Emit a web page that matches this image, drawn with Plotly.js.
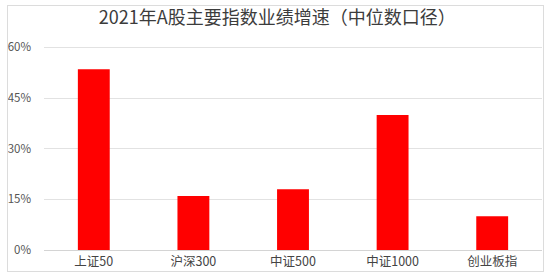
<!DOCTYPE html>
<html>
<head>
<meta charset="utf-8">
<script src="https://cdn.plot.ly/plotly-3.0.1.min.js"></script>
<style>
html,body{margin:0;padding:0;background:#fff;}
#wrap{position:relative;width:550px;height:277px;}
#chart{width:550px;height:277px;}
#frame{position:absolute;left:7px;top:5px;width:535px;height:265px;border:1px solid #dcdcdc;pointer-events:none;}
</style>
</head>
<body>
<div id="wrap"><div id="chart"></div><div id="frame"></div></div>
<script>
const categories = ["上证50", "沪深300", "中证500", "中证1000", "创业板指"];
const growth = [53.5, 16, 18, 40, 10];
const yTicks = [0, 15, 30, 45, 60];
const yTickLabels = ["0%", "15%", "30%", "45%", "60%"];
const titleText = "2021年A股主要指数业绩增速（中位数口径）";

const font = '"Noto Sans CJK SC", "Noto Sans", sans-serif';

Plotly.newPlot('chart', [{
  type: 'bar',
  x: categories,
  y: growth,
  marker: {color: '#ff0000'},
  hoverinfo: 'none'
}], {
  width: 550, height: 277,
  margin: {l: 44, r: 8, t: 44, b: 27},
  paper_bgcolor: '#fff', plot_bgcolor: '#fff',
  bargap: 0.68,
  showlegend: false,
  title: {text: titleText, x: 0.504, xanchor: 'center', y: 0.935, yanchor: 'middle',
          font: {family: font, size: 18, color: '#3c3c3c'}},
  xaxis: {
    type: 'category', range: [-0.5, 4.5],
    showline: true, linecolor: '#d4d4d4', linewidth: 1,
    showgrid: false, ticks: '',
    tickfont: {family: font, size: 12.5, color: '#444'}
  },
  yaxis: {
    range: [0, 61], tickvals: yTicks, ticktext: yTickLabels,
    showgrid: true, gridcolor: '#e2e2e2', gridwidth: 1,
    zeroline: false, showline: false, ticks: '',
    ticklabelstandoff: 12,
    tickfont: {family: font, size: 11.5, color: '#555'}
  }
}, {displayModeBar: false, staticPlot: true});
</script>
</body>
</html>
